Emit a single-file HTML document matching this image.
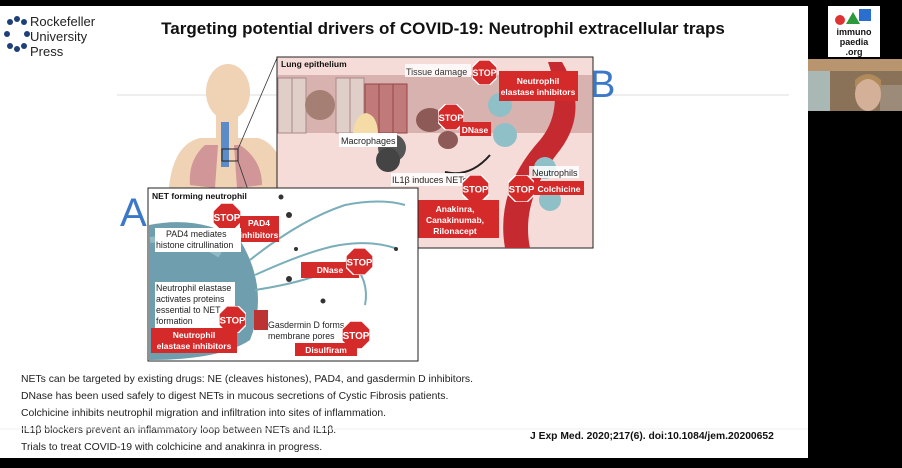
<!DOCTYPE html>
<html><head><meta charset="utf-8"><style>
body{margin:0;width:902px;height:468px;overflow:hidden;background:#000;font-family:"Liberation Sans",sans-serif;}
.s{position:absolute;left:0;top:6px;width:808px;height:452px;background:#fff;}
</style></head><body>
<div class="s"></div>
<svg width="902" height="468" style="position:absolute;left:0;top:0" font-family="Liberation Sans, sans-serif">
<defs>
<symbol id="stop" viewBox="-12 -12 24 24"><polygon points="-5,-12 5,-12 12,-5 12,5 5,12 -5,12 -12,5 -12,-5" fill="#d42a2a" stroke="#fff" stroke-width="1.2"/><text x="0" y="3.5" font-size="8.5" font-weight="bold" fill="#fff" text-anchor="middle">STOP</text></symbol>
</defs>
<rect x="117" y="20" width="672" height="75" fill="#fff"/>
<line x1="117" y1="95" x2="789" y2="95" stroke="#eeeeee" stroke-width="2"/>
<g fill="#1d3f7a">
<circle cx="10" cy="22" r="3"/><circle cx="17" cy="19" r="3"/><circle cx="24" cy="22" r="3"/>
<circle cx="7" cy="34" r="3"/><circle cx="27" cy="34" r="3"/>
<circle cx="10" cy="46" r="3"/><circle cx="17" cy="49" r="3"/><circle cx="24" cy="46" r="3"/>
</g>
<text x="30" y="26" font-size="13" fill="#222">Rockefeller</text>
<text x="30" y="41" font-size="13" fill="#222">University</text>
<text x="30" y="56" font-size="13" fill="#222">Press</text>
<text x="443" y="34" font-size="17" font-weight="bold" text-anchor="middle" fill="#111">Targeting potential drivers of COVID-19: Neutrophil extracellular traps</text>
<ellipse cx="228" cy="92" rx="22" ry="28" fill="#f0d2b4"/>
<rect x="216" y="110" width="22" height="30" fill="#f0d2b4"/>
<path d="M168 200 Q170 145 200 138 L258 138 Q285 145 288 200 Z" fill="#f0d2b4"/>
<path d="M205 145 Q188 160 190 185 L215 188 L218 145 Z M240 145 Q262 160 262 185 L237 188 L234 145Z" fill="#d09698"/>
<rect x="221" y="122" width="8" height="45" fill="#5b8cc8"/>
<rect x="222" y="149" width="16" height="12" fill="none" stroke="#222"/>
<line x1="238" y1="149" x2="277" y2="58" stroke="#333" stroke-width=".8"/>
<line x1="238" y1="161" x2="268" y2="248" stroke="#333" stroke-width=".8"/>
<rect x="277" y="57" width="316" height="191" fill="#f6dcd8" stroke="#222"/>
<rect x="278" y="75" width="314" height="58" fill="#d8b2ae"/>
<g fill="#e0cfc9" stroke="#a88">
<rect x="278" y="78" width="14" height="55"/><rect x="292" y="78" width="14" height="55"/><rect x="336" y="78" width="14" height="55"/><rect x="350" y="78" width="14" height="55"/>
</g>
<circle cx="320" cy="105" r="15" fill="#a57e74"/>
<g fill="#c07a7a" stroke="#944"><rect x="365" y="84" width="14" height="49"/><rect x="379" y="84" width="14" height="49"/><rect x="393" y="84" width="14" height="49"/></g>
<path d="M353 133 Q355 115 366 113 Q377 115 378 133Z" fill="#f5dca6"/>
<ellipse cx="430" cy="120" rx="14" ry="12" fill="#8e5a58"/>
<ellipse cx="448" cy="140" rx="10" ry="9" fill="#8e5a58"/>
<circle cx="392" cy="148" r="14" fill="#555"/><circle cx="388" cy="160" r="12" fill="#444"/>
<path d="M562 62 Q590 110 560 150 Q520 200 530 248 L505 248 Q495 190 540 140 Q565 110 548 62Z" fill="#c42a30"/>
<circle cx="500" cy="105" r="12" fill="#8fc0c8"/><circle cx="505" cy="135" r="12" fill="#8fc0c8"/>
<circle cx="545" cy="168" r="11" fill="#8fc0c8"/><circle cx="550" cy="200" r="11" fill="#8fc0c8"/>
<path d="M445 172 Q470 178 490 155" fill="none" stroke="#222" stroke-width="2"/>
<text x="281" y="67" font-size="8.5" font-weight="bold" fill="#111">Lung epithelium</text>
<rect x="405" y="64" width="66" height="13" fill="#fff" opacity=".8"/>
<text x="406" y="75" font-size="9" fill="#333">Tissue damage</text>
<use href="#stop" x="472" y="60" width="25" height="25"/>
<rect x="499" y="71" width="79" height="30" fill="#d42a2a"/>
<text x="538" y="84" font-size="8.5" font-weight="bold" fill="#fff" text-anchor="middle">Neutrophil</text>
<text x="538" y="95" font-size="8.5" font-weight="bold" fill="#fff" text-anchor="middle">elastase inhibitors</text>
<use href="#stop" x="438" y="104" width="26" height="26"/>
<rect x="460" y="122" width="31" height="14" fill="#d42a2a"/>
<text x="475" y="133" font-size="8.5" font-weight="bold" fill="#fff" text-anchor="middle">DNase</text>
<rect x="339" y="133" width="58" height="14" fill="#fff"/>
<text x="341" y="144" font-size="9" fill="#222">Macrophages</text>
<rect x="391" y="173" width="74" height="13" fill="#fff" opacity=".85"/>
<text x="392" y="183" font-size="9" fill="#222">IL1β induces NETs</text>
<use href="#stop" x="462" y="175" width="27" height="27"/>
<rect x="412" y="200" width="87" height="38" fill="#d42a2a"/>
<text x="455" y="212" font-size="8.5" font-weight="bold" fill="#fff" text-anchor="middle">Anakinra,</text>
<text x="455" y="223" font-size="8.5" font-weight="bold" fill="#fff" text-anchor="middle">Canakinumab,</text>
<text x="455" y="234" font-size="8.5" font-weight="bold" fill="#fff" text-anchor="middle">Rilonacept</text>
<rect x="529" y="166" width="50" height="12" fill="#fff" opacity=".85"/>
<text x="532" y="176" font-size="9" fill="#222">Neutrophils</text>
<use href="#stop" x="508" y="175" width="27" height="27"/>
<rect x="534" y="181" width="50" height="14" fill="#d42a2a"/>
<text x="559" y="192" font-size="8.5" font-weight="bold" fill="#fff" text-anchor="middle">Colchicine</text>
<text x="590" y="97" font-size="38" fill="#3b78c8">B</text>
<rect x="148" y="188" width="270" height="173" fill="#fff" stroke="#222"/>
<path d="M149 225 Q200 215 240 240 Q270 290 250 340 Q220 360 149 360Z" fill="#6f9fae"/>
<path d="M150 240 Q190 235 220 255" fill="none" stroke="#8fbac6" stroke-width="6"/>
<g fill="none" stroke="#7aaeb8" stroke-width="2">
<path d="M250 260 Q300 220 345 205 Q380 198 405 205"/>
<path d="M255 275 Q310 250 340 245 Q370 240 395 248"/>
<path d="M255 290 Q320 280 350 260 Q370 280 365 305"/>
</g>
<g fill="#333"><circle cx="281" cy="197" r="2.5"/><circle cx="289" cy="215" r="3"/><circle cx="296" cy="249" r="2"/><circle cx="289" cy="279" r="3"/><circle cx="323" cy="301" r="2.5"/><circle cx="396" cy="249" r="2"/></g>
<text x="152" y="199" font-size="8.5" font-weight="bold" fill="#111">NET forming neutrophil</text>
<use href="#stop" x="213" y="203" width="28" height="28"/>
<rect x="240" y="216" width="39" height="26" fill="#d42a2a"/>
<text x="259" y="226" font-size="8.5" font-weight="bold" fill="#fff" text-anchor="middle">PAD4</text>
<text x="259" y="238" font-size="8.5" font-weight="bold" fill="#fff" text-anchor="middle">inhibitors</text>
<rect x="155" y="228" width="86" height="24" fill="#fff"/>
<text x="166" y="237" font-size="8.8" fill="#222">PAD4 mediates</text>
<text x="156" y="248" font-size="8.8" fill="#222">histone citrullination</text>
<rect x="301" y="262" width="58" height="16" fill="#d42a2a"/>
<text x="330" y="273" font-size="8.5" font-weight="bold" fill="#fff" text-anchor="middle">DNase</text>
<use href="#stop" x="346" y="248" width="27" height="27"/>
<rect x="155" y="282" width="80" height="46" fill="#fff"/>
<text x="156" y="291" font-size="8.8" fill="#222">Neutrophil elastase</text>
<text x="156" y="302" font-size="8.8" fill="#222">activates proteins</text>
<text x="156" y="313" font-size="8.8" fill="#222">essential to NET</text>
<text x="156" y="324" font-size="8.8" fill="#222">formation</text>
<use href="#stop" x="219" y="306" width="27" height="27"/>
<rect x="151" y="328" width="86" height="25" fill="#d42a2a"/>
<text x="194" y="338" font-size="8.5" font-weight="bold" fill="#fff" text-anchor="middle">Neutrophil</text>
<text x="194" y="349" font-size="8.5" font-weight="bold" fill="#fff" text-anchor="middle">elastase inhibitors</text>
<rect x="254" y="310" width="14" height="20" fill="#b33" />
<text x="268" y="328" font-size="8.8" fill="#222">Gasdermin D forms</text>
<text x="268" y="339" font-size="8.8" fill="#222">membrane pores</text>
<use href="#stop" x="342" y="321" width="28" height="28"/>
<rect x="295" y="343" width="62" height="13" fill="#d42a2a"/>
<text x="326" y="353" font-size="8.5" font-weight="bold" fill="#fff" text-anchor="middle">Disulfiram</text>
<text x="120" y="226" font-size="40" fill="#3b78c8">A</text>
<g font-size="10.4" fill="#222">
<text x="21" y="382">NETs can be targeted by existing drugs: NE (cleaves histones), PAD4, and gasdermin D inhibitors.</text>
<text x="21" y="399">DNase has been used safely to digest NETs in mucous secretions of Cystic Fibrosis patients.</text>
<text x="21" y="416">Colchicine inhibits neutrophil migration and infiltration into sites of inflammation.</text>
<text x="21" y="433">IL1β blockers prevent an inflammatory loop between NETs and IL1β.</text>
<text x="21" y="450">Trials to treat COVID-19 with colchicine and anakinra in progress.</text>
</g>
<line x1="0" y1="429" x2="808" y2="429" stroke="#efefef"/>
<text x="530" y="439" font-size="10.3" font-weight="bold" fill="#111">J Exp Med. 2020;217(6). doi:10.1084/jem.20200652</text>
<rect x="828" y="6" width="52" height="51" fill="#fff"/>
<circle cx="840" cy="20" r="5" fill="#d33"/><polygon points="846,24 853,12 860,24" fill="#2a9a3a"/><rect x="859" y="9" width="12" height="12" fill="#2a6fd0"/>
<text x="854" y="35" font-size="9" font-weight="bold" text-anchor="middle" fill="#111">immuno</text>
<text x="854" y="45" font-size="9" font-weight="bold" text-anchor="middle" fill="#111">paedia</text>
<text x="854" y="55" font-size="9" font-weight="bold" text-anchor="middle" fill="#111">.org</text>
<rect x="808" y="59" width="94" height="52" fill="#8a7258"/>
<rect x="808" y="59" width="94" height="12" fill="#b8956e"/>
<rect x="808" y="71" width="22" height="40" fill="#a9b8b4"/>
<rect x="880" y="85" width="22" height="26" fill="#9b8b78"/>
<ellipse cx="868" cy="94" rx="13" ry="17" fill="#d4b098"/>
<path d="M855 88 Q868 70 881 88 L881 80 Q868 68 855 80Z" fill="#b08a5a"/>
</svg>
</body></html>
